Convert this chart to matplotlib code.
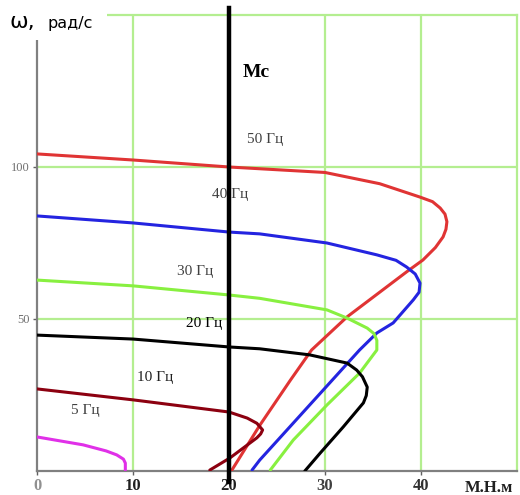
import matplotlib.pyplot as plt

# mechanical characteristics omega(M) for each supply frequency
m_50 = [0, 10, 20, 30, 35.7, 39.9, 41.2, 42.0, 42.5, 42.7, 42.6, 42.3, 41.5, 40.2,
        38.5, 32.3, 28.6, 26.4, 23.2, 20.3]
w_50 = [104.3, 102.3, 100, 98.2, 94.5, 90.1, 88.6, 86.5, 84.5, 82, 79.5, 77, 73.5, 69.4,
        65.5, 50.7, 39.8, 29.9, 15.0, 0.3]

m_40 = [0, 10, 20, 23.2, 30.2, 35.4, 37.4, 38.5, 39.4, 39.9, 39.8, 39.2, 37.1, 35.4,
        33.6, 23.2, 22.4]
w_40 = [83.9, 81.6, 78.6, 78.0, 75, 71.1, 69.3, 67.1, 64.8, 61.8, 58.8, 56.3, 48.7, 45.4,
        39.8, 3.6, 0.3]

m_30 = [0, 10, 20, 23.2, 30.2, 32.3, 34.4, 35.1, 35.4, 35.4, 33.6, 30.2, 26.7, 24.3]
w_30 = [62.8, 60.9, 57.9, 56.8, 53, 50.3, 47, 45.2, 43.0, 39.8, 32.2, 21.7, 10.2, 0.3]

m_20 = [0, 10, 20, 23.2, 28.4, 32.3, 33.3, 33.9, 34.4, 34.3, 34.0, 31.9, 29.5, 27.9]
w_20 = [44.7, 43.4, 40.8, 40.2, 38.2, 35.5, 33.2, 31.0, 27.6, 24.8, 22.4, 14.5, 5.9, 0]

m_10 = [0, 10, 20, 21.9, 22.9, 23.5, 23.3, 22.9, 20.1, 18.0]
w_10 = [27, 23.4, 19.4, 17.4, 15.7, 13.5, 12.2, 10.9, 4.3, 0.3]

m_5 = [0, 4.8, 7.2, 8.3, 9.0, 9.2, 9.2]
w_5 = [11.2, 8.6, 6.6, 5.3, 3.9, 2.6, 0.3]

m_c = 20
x_ticks = [0, 10, 20, 30, 40]
y_ticks = [50, 100]

curves = [
    (m_50, w_50, "#e03434"),
    (m_40, w_40, "#2424e0"),
    (m_30, w_30, "#88f040"),
    (m_20, w_20, "#000000"),
    (m_10, w_10, "#8c0010"),
    (m_5, w_5, "#e030e8"),
]

labels = [
    ("50 Гц", 23.8, 108.9, "#404040"),
    ("40 Гц", 20.1, 90.8, "#404040"),
    ("30 Гц", 16.5, 65.5, "#404040"),
    ("20 Гц", 17.4, 48.4, "#000000"),
    ("10 Гц", 12.3, 30.6, "#202020"),
    ("5 Гц", 5.0, 20.0, "#404040"),
]

grid_col = "#b4ee90"
serif = "Liberation Serif"

fig = plt.figure(figsize=(5.2, 4.95), dpi=100)
ax = fig.add_axes([0.0712, 0.0485, 0.9230, 0.9212])
ax.set_xlim(0, 50)
ax.set_ylim(0, 150)

for v in [10, 20, 30, 40]:
    ax.axvline(v, color=grid_col, lw=1.6, zorder=1)
for v in [50, 100]:
    ax.axhline(v, color=grid_col, lw=1.6, zorder=1)

for s in ["top", "right"]:
    ax.spines[s].set_color(grid_col)
    ax.spines[s].set_linewidth(1.6)
for s in ["left", "bottom"]:
    ax.spines[s].set_color("#808080")
    ax.spines[s].set_linewidth(1.6)

for m, w, c in curves:
    ax.plot(m, w, color=c, lw=2.2, zorder=3, solid_capstyle="round",
            solid_joinstyle="round")

for txt, x, y, c in labels:
    ax.text(x, y, txt, color=c, fontsize=11, family=serif,
            ha="center", va="center", zorder=2)

ax.axvline(m_c, ymin=-0.025, ymax=1.015, color="black", lw=3.2,
           zorder=4, clip_on=False)
ax.text(21.4, 131, "Mc", fontsize=14, fontweight="bold", family=serif,
        ha="left", va="center")

ax.set_xticks(x_ticks)
ax.set_xticklabels([str(t) for t in x_ticks], family=serif,
                   fontsize=12, fontweight="bold")
for lbl, c in zip(ax.get_xticklabels(), ["#909090", "#202020", "#202020", "#404040", "#303030"]):
    lbl.set_color(c)
ax.set_yticks(y_ticks)
ax.set_yticklabels([str(t) for t in y_ticks], family=serif,
                   fontsize=9, color="#707070")
ax.tick_params(axis="both", length=3, width=1, color="#606060", pad=2)

fig.text(0.94, 0.015, "М.Н.м", fontsize=12, fontweight="bold",
         family=serif, ha="center", va="center", color="#202020")

# white patch hiding the top of the left spine behind the axis title
fig.patches.append(plt.Rectangle((0, 0.92), 0.205, 0.08, transform=fig.transFigure,
                                 facecolor="white", edgecolor="none", zorder=5))
fig.text(0.018, 0.955, "ω,", fontsize=16, ha="left", va="center", zorder=6)
fig.text(0.092, 0.952, "рад/с", fontsize=11.5, ha="left", va="center", zorder=6)

fig.savefig("out.png", dpi=100)
